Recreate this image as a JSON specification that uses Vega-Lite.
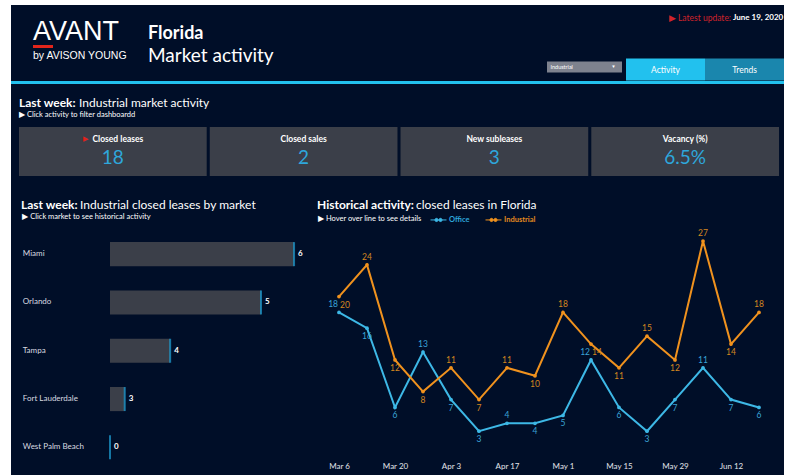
{
  "$schema": "https://vega.github.io/schema/vega-lite/v6.json",
  "background": "#000e28",
  "padding": 0,
  "spacing": 0,
  "config": {
    "view": {"stroke": null},
    "font": "Lato",
    "title": {"font": "Lato", "subtitleFont": "Lato", "color": "#ffffff", "subtitleColor": "#ffffff", "anchor": "start", "offset": 0, "fontWeight": "normal"},
    "axis": {"labelFont": "Lato"},
    "legend": {"labelFont": "Lato", "titleFont": "Lato"},
    "text": {"font": "Lato"}
  },
  "hconcat": [
    {"width": 11, "height": 475, "data": {"values": [{}]}, "mark": {"type": "rect", "color": "#ffffff"}, "encoding": {}},
    {
      "spacing": 13,
      "vconcat": [
        {
          "spacing": 0,
          "vconcat": [
            {"width": 773, "height": 5, "data": {"values": [{}]}, "mark": {"type": "rect", "color": "#ffffff"}, "encoding": {}},
            {
              "spacing": 0,
              "hconcat": [
                {"width": 22, "height": 1, "data": {"values": []}, "mark": "point", "encoding": {}},
                {
                  "spacing": 0,
                  "vconcat": [
                    {"width": 115, "height": 14, "data": {"values": []}, "mark": "point", "encoding": {},
                     "title": {"text": "AVANT", "orient": "bottom", "anchor": "start", "font": "Liberation Sans", "fontSize": 27, "fontWeight": "normal", "color": "#ffffff", "offset": 0}},
                    {"width": 20, "height": 3, "data": {"values": [{}]}, "mark": {"type": "rect", "color": "#e1251b"}, "encoding": {}},
                    {"width": 115, "height": 3, "data": {"values": []}, "mark": "point", "encoding": {},
                     "title": {"text": "by AVISON YOUNG", "orient": "bottom", "anchor": "start", "font": "Liberation Sans", "fontSize": 10.5, "fontWeight": "normal", "color": "#ffffff", "offset": 0}}
                  ]
                },
                {"width": 399, "height": 20, "data": {"values": []}, "mark": "point", "encoding": {},
                 "title": {"text": "Florida", "subtitle": "Market activity", "orient": "bottom", "anchor": "start", "fontSize": 18, "fontWeight": "bold", "subtitleFontSize": 19, "subtitlePadding": 4, "offset": 0}},
                {
                  "spacing": 35.5,
                  "vconcat": [
                    {
                      "spacing": 0,
                      "hconcat": [
                        {"width": 184, "height": 9, "data": {"values": []}, "mark": "point", "encoding": {},
                         "title": {"text": "▶ Latest update:", "orient": "bottom", "anchor": "end", "fontSize": 8.5, "color": "#d0232b", "offset": 0}},
                        {"width": 53, "height": 9, "data": {"values": []}, "mark": "point", "encoding": {},
                         "title": {"text": "June 19, 2020", "orient": "bottom", "anchor": "start", "dx": 2, "fontSize": 8, "fontWeight": "bold", "color": "#ffffff", "offset": 0}}
                      ]
                    },
                    {
                      "spacing": 4,
                      "hconcat": [
                        {
                          "spacing": 0,
                          "vconcat": [
                            {"width": 75, "height": 3, "data": {"values": []}, "mark": "point", "encoding": {}},
                            {"width": 75, "height": 11, "data": {"values": [{"option": "Industrial"}]},
                             "layer": [
                               {"mark": {"type": "rect", "color": "#7e828e"}, "encoding": {}},
                               {"mark": {"type": "text", "align": "left", "dx": -34, "fontSize": 5.5, "color": "#ffffff"}, "encoding": {"text": {"field": "option"}}},
                               {"mark": {"type": "text", "dx": 29, "fontSize": 4.5, "color": "#ffffff", "text": "▼"}, "encoding": {}}
                             ]}
                          ]
                        },
                        {"width": 158, "height": 22, "data": {"values": [{"tab": "Activity", "active": true}, {"tab": "Trends", "active": false}]},
                         "encoding": {"x": {"field": "tab", "type": "nominal", "sort": null, "scale": {"paddingInner": 0, "paddingOuter": 0}, "axis": null}},
                         "layer": [
                           {"transform": [{"filter": "datum.active"}], "mark": {"type": "rect", "color": "#22c1ee"}},
                           {"transform": [{"filter": "!datum.active"}], "mark": {"type": "rect", "color": "#1a86ad"}},
                           {"mark": {"type": "text", "fontSize": 8.5, "color": "#ffffff"}, "encoding": {"text": {"field": "tab"}}}
                         ]}
                      ]
                    }
                  ]
                }
              ]
            },
            {"width": 773, "height": 3, "data": {"values": [{}]}, "mark": {"type": "rect", "color": "#22c1ee"}, "encoding": {}}
          ]
        },
        {
          "spacing": 0,
          "hconcat": [
            {"width": 8, "height": 1, "data": {"values": []}, "mark": "point", "encoding": {}},
            {
              "spacing": 23,
              "vconcat": [
                {
                  "spacing": 0,
                  "vconcat": [
                    {
                      "spacing": 0,
                      "hconcat": [
                        {"width": 60, "height": 1, "data": {"values": []}, "mark": "point", "encoding": {}, "title": {"text": "Last week:", "fontSize": 12, "fontWeight": "bold", "offset": 0}},
                        {"width": 200, "height": 1, "data": {"values": []}, "mark": "point", "encoding": {}, "title": {"text": "Industrial market activity", "fontSize": 12, "offset": 0}}
                      ]
                    },
                    {
                      "width": 760, "height": 49,
                      "title": {"text": "▶ Click activity to filter dashboardd", "fontSize": 7.5, "offset": 8.5},
                      "data": {"values": [
                        {"metric": "Closed leases", "value": 18, "unit": "", "active": true},
                        {"metric": "Closed sales", "value": 2, "unit": "", "active": false},
                        {"metric": "New subleases", "value": 3, "unit": "", "active": false},
                        {"metric": "Vacancy (%)", "value": 6.5, "unit": "%", "active": false}
                      ]},
                      "transform": [{"calculate": "datum.value + datum.unit", "as": "shown"}],
                      "encoding": {"x": {"field": "metric", "type": "nominal", "sort": null, "scale": {"paddingInner": 0.016, "paddingOuter": 0}, "axis": null}},
                      "layer": [
                        {"mark": {"type": "rect", "color": "#3b3f49"}},
                        {"transform": [{"filter": "!datum.active"}], "mark": {"type": "text", "baseline": "middle", "dy": -13, "fontSize": 8.5, "fontWeight": "bold", "color": "#ffffff"}, "encoding": {"text": {"field": "metric"}}},
                        {"transform": [{"filter": "datum.active"}], "mark": {"type": "text", "baseline": "middle", "dy": -13, "dx": 5, "fontSize": 8.5, "fontWeight": "bold", "color": "#ffffff"}, "encoding": {"text": {"field": "metric"}}},
                        {"transform": [{"filter": "datum.active"}], "mark": {"type": "text", "baseline": "middle", "dy": -13, "dx": -27, "fontSize": 7, "color": "#e3211b", "text": "▶"}},
                        {"mark": {"type": "text", "baseline": "middle", "dy": 6, "fontSize": 19, "color": "#2ea7dc"}, "encoding": {"text": {"field": "shown"}}}
                      ]
                    }
                  ]
                },
                {
                  "spacing": 0,
                  "vconcat": [
                    {
                      "spacing": 0,
                      "hconcat": [
                        {"width": 2, "height": 1, "data": {"values": []}, "mark": "point", "encoding": {}},
                        {"width": 59, "height": 1, "data": {"values": []}, "mark": "point", "encoding": {}, "title": {"text": "Last week:", "fontSize": 12, "fontWeight": "bold", "offset": 0}},
                        {"width": 237, "height": 1, "data": {"values": []}, "mark": "point", "encoding": {}, "title": {"text": "Industrial closed leases by market", "fontSize": 12, "offset": 0}},
                        {"width": 99, "height": 1, "data": {"values": []}, "mark": "point", "encoding": {}, "title": {"text": "Historical activity:", "fontSize": 12, "fontWeight": "bold", "offset": 0}},
                        {"width": 125, "height": 1, "data": {"values": []}, "mark": "point", "encoding": {}, "title": {"text": "closed leases in Florida", "fontSize": 12, "offset": 0}}
                      ]
                    },
                    {
                      "spacing": 0,
                      "resolve": {"scale": {"color": "independent", "fill": "independent"}, "legend": {"color": "independent", "fill": "independent"}},
                      "hconcat": [
                        {"width": 3, "height": 1, "data": {"values": []}, "mark": "point", "encoding": {}},
                        {
                          "width": 200, "height": 241.5,
                          "title": {"text": "▶ Click market to see historical activity", "fontSize": 7.5, "frame": "bounds", "anchor": "start", "offset": 9.1},
                          "data": {"values": [
                            {"market": "Miami", "leases": 6, "sqft_k": 612},
                            {"market": "Orlando", "leases": 5, "sqft_k": 502},
                            {"market": "Tampa", "leases": 4, "sqft_k": 200},
                            {"market": "Fort Lauderdale", "leases": 3, "sqft_k": 49},
                            {"market": "West Palm Beach", "leases": 0, "sqft_k": 0}
                          ]},
                          "encoding": {
                            "y": {"field": "market", "type": "nominal", "sort": null, "scale": {"paddingInner": 0.5, "paddingOuter": 0.25},
                                  "axis": {"title": null, "domain": false, "ticks": false, "labelAlign": "left", "labelPadding": 87.7, "labelFontSize": 8, "labelColor": "#d9dbe0"}},
                            "x": {"field": "sqft_k", "type": "quantitative", "scale": {"domain": [0, 665], "nice": false}, "axis": null}
                          },
                          "layer": [
                            {"mark": {"type": "bar", "color": "#3b3f49"}},
                            {"mark": {"type": "tick", "color": "#1ea3d8", "thickness": 2, "size": 24}},
                            {"mark": {"type": "text", "align": "left", "dx": 4, "fontSize": 8, "fontWeight": "bold", "color": "#ffffff"}, "encoding": {"text": {"field": "leases"}}}
                          ]
                        },
                        {"width": 7.3, "height": 1, "data": {"values": []}, "mark": "point", "encoding": {}},
                        {
                          "width": 452, "height": 225,
                          "data": {"values": [
                            {"week": "2020-03-06T00:00:00", "series": "Office", "leases": 18},
                            {"week": "2020-03-13T00:00:00", "series": "Office", "leases": 16},
                            {"week": "2020-03-20T00:00:00", "series": "Office", "leases": 6},
                            {"week": "2020-03-27T00:00:00", "series": "Office", "leases": 13},
                            {"week": "2020-04-03T00:00:00", "series": "Office", "leases": 7},
                            {"week": "2020-04-10T00:00:00", "series": "Office", "leases": 3},
                            {"week": "2020-04-17T00:00:00", "series": "Office", "leases": 4},
                            {"week": "2020-04-24T00:00:00", "series": "Office", "leases": 4},
                            {"week": "2020-05-01T00:00:00", "series": "Office", "leases": 5},
                            {"week": "2020-05-08T00:00:00", "series": "Office", "leases": 12},
                            {"week": "2020-05-15T00:00:00", "series": "Office", "leases": 6},
                            {"week": "2020-05-22T00:00:00", "series": "Office", "leases": 3},
                            {"week": "2020-05-29T00:00:00", "series": "Office", "leases": 7},
                            {"week": "2020-06-05T00:00:00", "series": "Office", "leases": 11},
                            {"week": "2020-06-12T00:00:00", "series": "Office", "leases": 7},
                            {"week": "2020-06-19T00:00:00", "series": "Office", "leases": 6},
                            {"week": "2020-03-06T00:00:00", "series": "Industrial", "leases": 20},
                            {"week": "2020-03-13T00:00:00", "series": "Industrial", "leases": 24},
                            {"week": "2020-03-20T00:00:00", "series": "Industrial", "leases": 12},
                            {"week": "2020-03-27T00:00:00", "series": "Industrial", "leases": 8},
                            {"week": "2020-04-03T00:00:00", "series": "Industrial", "leases": 11},
                            {"week": "2020-04-10T00:00:00", "series": "Industrial", "leases": 7},
                            {"week": "2020-04-17T00:00:00", "series": "Industrial", "leases": 11},
                            {"week": "2020-04-24T00:00:00", "series": "Industrial", "leases": 10},
                            {"week": "2020-05-01T00:00:00", "series": "Industrial", "leases": 18},
                            {"week": "2020-05-08T00:00:00", "series": "Industrial", "leases": 14},
                            {"week": "2020-05-15T00:00:00", "series": "Industrial", "leases": 11},
                            {"week": "2020-05-22T00:00:00", "series": "Industrial", "leases": 15},
                            {"week": "2020-05-29T00:00:00", "series": "Industrial", "leases": 12},
                            {"week": "2020-06-05T00:00:00", "series": "Industrial", "leases": 27},
                            {"week": "2020-06-12T00:00:00", "series": "Industrial", "leases": 14},
                            {"week": "2020-06-19T00:00:00", "series": "Industrial", "leases": 18}
                          ]},
                          "transform": [
                            {"window": [{"op": "lag", "field": "leases", "as": "prev"}, {"op": "lead", "field": "leases", "as": "next"}], "groupby": ["series"], "sort": [{"field": "week"}]},
                            {"calculate": "(datum.prev == null || datum.leases >= datum.prev) && (datum.next == null || datum.leases >= datum.next)", "as": "peak"},
                            {"joinaggregate": [{"op": "max", "field": "leases", "as": "wmax"}, {"op": "min", "field": "leases", "as": "wmin"}], "groupby": ["week"]},
                            {"calculate": "datum.wmax - datum.wmin <= 2", "as": "close"}
                          ],
                          "encoding": {
                            "x": {"field": "week", "type": "temporal",
                                  "scale": {"domain": [{"year": 2020, "month": 3, "date": 2}, {"year": 2020, "month": 6, "date": 23}]},
                                  "axis": {"title": null, "values": [
                                    {"year": 2020, "month": 3, "date": 6}, {"year": 2020, "month": 3, "date": 20},
                                    {"year": 2020, "month": 4, "date": 3}, {"year": 2020, "month": 4, "date": 17},
                                    {"year": 2020, "month": 5, "date": 1}, {"year": 2020, "month": 5, "date": 15},
                                    {"year": 2020, "month": 5, "date": 29}, {"year": 2020, "month": 6, "date": 12}],
                                    "format": "%b %-d", "domain": false, "ticks": false, "grid": false, "labelColor": "#e2e4ea", "labelFontSize": 8, "labelPadding": 7}},
                            "y": {"field": "leases", "type": "quantitative", "scale": {"domain": [0, 28.4], "nice": false}, "axis": null}
                          },
                          "layer": [
                            {"mark": {"type": "line", "strokeWidth": 2},
                             "encoding": {"color": {"field": "series", "type": "nominal",
                               "scale": {"domain": ["Office", "Industrial"], "range": ["#3db8e6", "#f0921e"]},
                               "legend": {"orient": "none", "legendX": -5, "legendY": -16, "direction": "horizontal",
                                 "title": "▶ Hover over line to see details", "titleOrient": "left", "titleAnchor": "middle", "titleColor": "#ffffff", "titleFontSize": 7.5, "titleFontWeight": "normal", "titlePadding": 11,
                                 "labelFontSize": 7.5, "labelFontWeight": "bold", "labelOffset": 5, "columnPadding": 13,
                                 "symbolType": "M-1.6,0H-0.72M-0.08,0H0.08M0.72,0H1.6M-0.08,0A0.32,0.32 0 1 1 -0.72,0A0.32,0.32 0 1 1 -0.08,0M0.72,0A0.32,0.32 0 1 1 0.08,0A0.32,0.32 0 1 1 0.72,0",
                                 "symbolSize": 100, "symbolStrokeWidth": 1,
                                 "encode": {"labels": {"update": {"fill": {"signal": "datum.value === 'Office' ? '#2ea6dc' : '#e2891f'"}}},
                                            "symbols": {"update": {"fill": {"value": "transparent"}}}}}}}},
                            {"mark": {"type": "point", "filled": true, "size": 14, "opacity": 1},
                             "encoding": {"color": {"field": "series", "type": "nominal"}}},
                            {"transform": [{"filter": "!datum.close && datum.peak"}],
                             "mark": {"type": "text", "baseline": "bottom", "dy": -3, "fontSize": 8.5},
                             "encoding": {"text": {"field": "leases"}, "fill": {"field": "series", "type": "nominal", "scale": {"domain": ["Office", "Industrial"], "range": ["#3aa3d6", "#d4861f"]}, "legend": null}}},
                            {"transform": [{"filter": "!datum.close && !datum.peak"}],
                             "mark": {"type": "text", "baseline": "top", "dy": 4, "fontSize": 8.5},
                             "encoding": {"text": {"field": "leases"}, "fill": {"field": "series", "type": "nominal", "legend": null}}},
                            {"transform": [{"filter": "datum.close && datum.series === 'Office' && datum.peak"}],
                             "mark": {"type": "text", "baseline": "bottom", "align": "right", "dx": -1, "dy": -3, "fontSize": 8.5},
                             "encoding": {"text": {"field": "leases"}, "fill": {"field": "series", "type": "nominal", "legend": null}}},
                            {"transform": [{"filter": "datum.close && datum.series === 'Office' && !datum.peak"}],
                             "mark": {"type": "text", "baseline": "top", "align": "right", "dx": -1, "dy": 4, "fontSize": 8.5},
                             "encoding": {"text": {"field": "leases"}, "fill": {"field": "series", "type": "nominal", "legend": null}}},
                            {"transform": [{"filter": "datum.close && datum.series === 'Industrial' && datum.peak"}],
                             "mark": {"type": "text", "baseline": "bottom", "align": "left", "dx": 1, "dy": -3, "fontSize": 8.5},
                             "encoding": {"text": {"field": "leases"}, "fill": {"field": "series", "type": "nominal", "legend": null}}},
                            {"transform": [{"filter": "datum.close && datum.series === 'Industrial' && !datum.peak"}],
                             "mark": {"type": "text", "baseline": "top", "align": "left", "dx": 1, "dy": 4, "fontSize": 8.5},
                             "encoding": {"text": {"field": "leases"}, "fill": {"field": "series", "type": "nominal", "legend": null}}}
                          ]
                        }
                      ]
                    }
                  ]
                }
              ]
            }
          ]
        }
      ]
    },
    {"width": 5, "height": 475, "data": {"values": [{}]}, "mark": {"type": "rect", "color": "#ffffff"}, "encoding": {}}
  ]
}
